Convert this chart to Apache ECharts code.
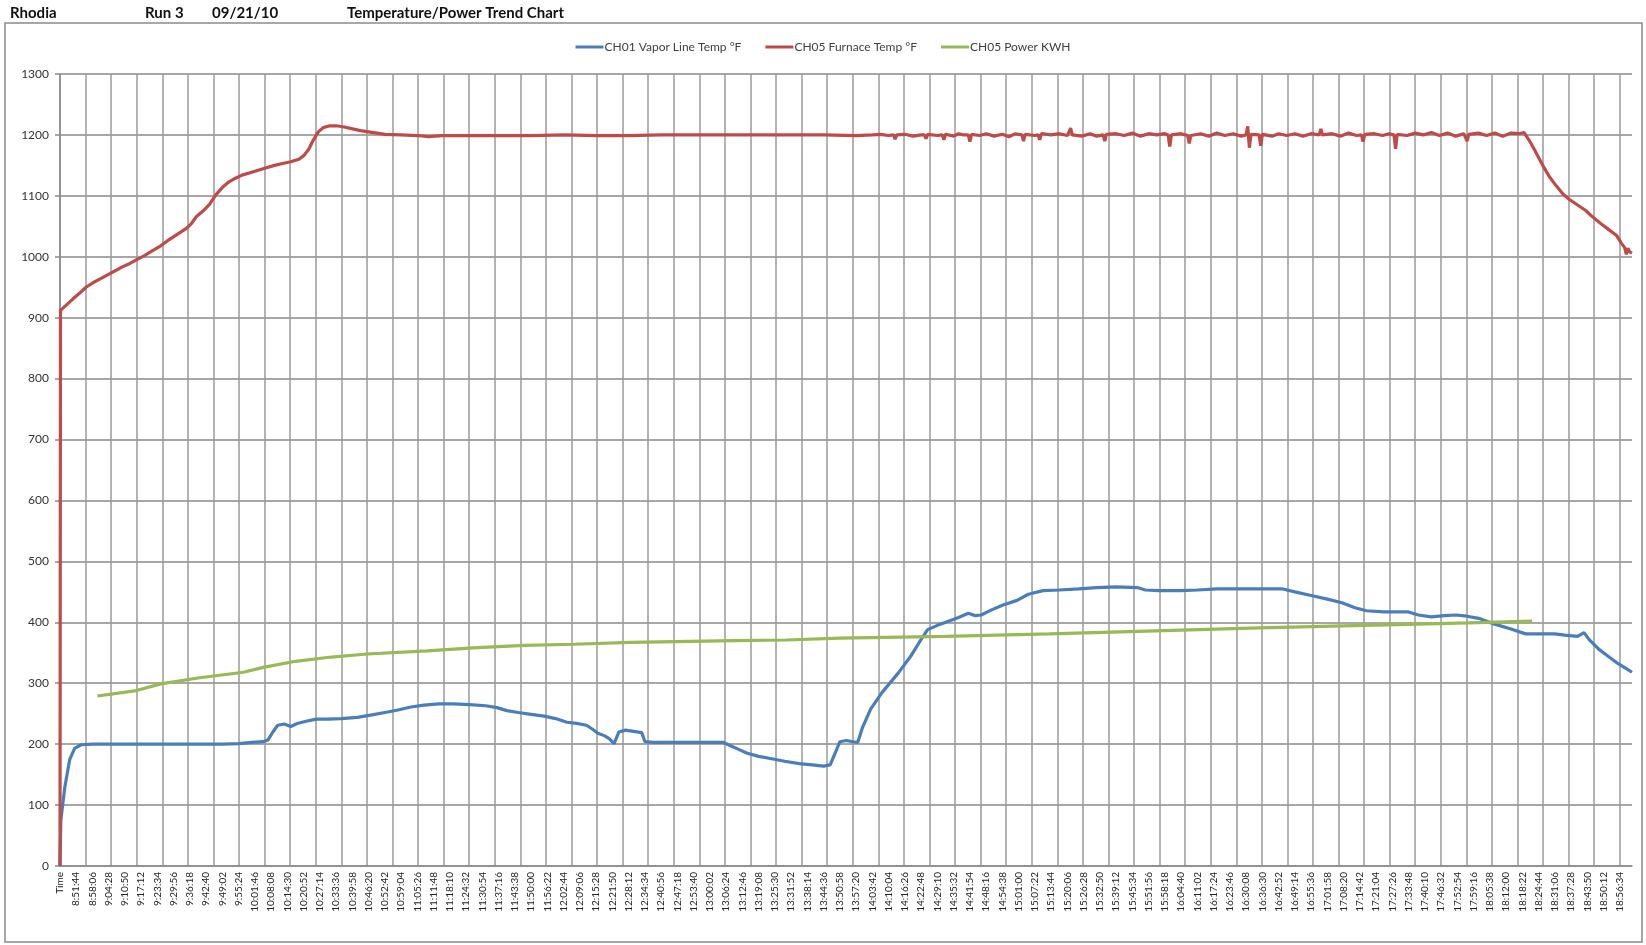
<!DOCTYPE html>
<html>
<head>
<meta charset="utf-8">
<script src="https://cdn.jsdelivr.net/npm/echarts@6/dist/echarts.min.js"></script>
<style>
html,body{margin:0;padding:0;background:#fff;}
#chart{width:1646px;height:945px;}
</style>
</head>
<body>
<div id="chart"></div>
<script>
// ---- data (x = position in tick-label units, y = value) ----
const timeLabels = ["Time","8:51:44","8:58:06","9:04:28","9:10:50","9:17:12","9:23:34","9:29:56","9:36:18","9:42:40","9:49:02","9:55:24","10:01:46","10:08:08","10:14:30","10:20:52","10:27:14","10:33:36","10:39:58","10:46:20","10:52:42","10:59:04","11:05:26","11:11:48","11:18:10","11:24:32","11:30:54","11:37:16","11:43:38","11:50:00","11:56:22","12:02:44","12:09:06","12:15:28","12:21:50","12:28:12","12:34:34","12:40:56","12:47:18","12:53:40","13:00:02","13:06:24","13:12:46","13:19:08","13:25:30","13:31:52","13:38:14","13:44:36","13:50:58","13:57:20","14:03:42","14:10:04","14:16:26","14:22:48","14:29:10","14:35:32","14:41:54","14:48:16","14:54:38","15:01:00","15:07:22","15:13:44","15:20:06","15:26:28","15:32:50","15:39:12","15:45:34","15:51:56","15:58:18","16:04:40","16:11:02","16:17:24","16:23:46","16:30:08","16:36:30","16:42:52","16:49:14","16:55:36","17:01:58","17:08:20","17:14:42","17:21:04","17:27:26","17:33:48","17:40:10","17:46:32","17:52:54","17:59:16","18:05:38","18:12:00","18:18:22","18:24:44","18:31:06","18:37:28","18:43:50","18:50:12","18:56:34"];

const seriesNames = ["CH01 Vapor Line Temp °F","CH05 Furnace Temp °F","CH05 Power KWH"];

const vaporLineTemp = [[0,0],[0.05,75],[0.3,130],[0.6,175],[0.9,193],[1.3,199],[2,200],[4,200],[6,200],[8,200],[10,200],[11,201],[11.8,203],[12.5,204],[12.8,207],[13.1,220],[13.4,231],[13.8,233],[14.2,229],[14.6,234],[15.2,238],[15.8,241],[16.5,241],[17.3,242],[18.3,244],[19.2,248],[20,252],[20.8,256],[21.6,261],[22.4,264],[23.3,266],[24.2,266],[25.2,265],[26.2,263],[26.9,260],[27.5,255],[28.2,252],[29,249],[29.8,246],[30.5,242],[31.2,236],[31.8,234],[32.4,231],[32.8,224],[33.1,218],[33.5,214],[33.8,209],[34.1,201],[34.4,220],[34.8,223],[35.3,221],[35.8,219],[36.0,204],[36.5,203],[38,203],[39.5,203],[40.8,203],[41.3,197],[41.8,191],[42.3,185],[43,180],[43.8,176],[44.6,172],[45.5,168],[46.3,166],[47,164],[47.4,166],[47.7,185],[48.0,204],[48.4,206],[48.8,204],[49.1,203],[49.4,228],[49.9,258],[50.6,285],[51.6,317],[52.4,346],[53.0,372],[53.4,388],[54.0,395],[54.6,401],[55.3,408],[55.9,415],[56.3,411],[56.7,412],[57.3,420],[58,428],[58.9,436],[59.6,446],[60.5,452],[61.5,453],[62.7,455],[63.8,457],[65,458],[66.3,457],[66.8,453],[67.6,452],[69,452],[70,453],[71.2,455],[73,455],[75.2,455],[76,450],[77,444],[78,438],[78.9,432],[79.7,424],[80.4,419],[81.5,417],[83,417],[83.6,412],[84.4,409],[85.2,411],[85.9,412],[86.6,410],[87.4,406],[88.3,397],[89.3,389],[90.2,381],[91,381],[92,381],[92.6,379],[93.4,377],[93.8,383],[94.1,372],[94.7,356],[95.3,344],[95.9,332],[96.4,324],[96.75,318]];

const furnaceTemp = [[0,0],[0.03,912],[0.4,921],[0.8,931],[1.2,940],[1.6,950],[2.0,957],[2.5,964],[2.9,970],[3.4,977],[3.8,983],[4.3,989],[4.7,995],[5.2,1002],[5.7,1010],[6.2,1018],[6.6,1026],[7.0,1033],[7.4,1040],[7.8,1047],[8.1,1055],[8.4,1066],[8.8,1075],[9.2,1086],[9.6,1102],[10.0,1114],[10.4,1123],[10.8,1129],[11.2,1134],[11.7,1138],[12.2,1142],[12.7,1146],[13.2,1150],[13.7,1153],[14.2,1156],[14.7,1160],[15.0,1166],[15.3,1176],[15.6,1192],[15.9,1205],[16.2,1212],[16.6,1215],[17.0,1215],[17.5,1213],[18.0,1210],[18.5,1207],[19.0,1205],[19.5,1203],[20.0,1201],[21,1200],[22,1199],[22.7,1197],[23.5,1199],[25,1199],[27,1199],[29,1199],[31,1200],[33,1199],[35,1199],[37,1200],[39,1200],[41,1200],[43,1200],[45,1200],[47,1200],[49,1199],[50,1200],[50.5,1201],[51,1199],[51.3,1200],[51.4,1193],[51.5,1200],[52,1201],[52.5,1198],[53,1200],[53.2,1200],[53.3,1194],[53.4,1201],[54,1199],[54.3,1200],[54.4,1192],[54.5,1201],[55,1198],[55.3,1202],[55.6,1200],[55.9,1200],[56.0,1189],[56.1,1201],[56.6,1199],[57,1202],[57.5,1198],[58,1201],[58.4,1197],[58.8,1202],[59.2,1200],[59.3,1190],[59.4,1201],[60,1199],[60.2,1200],[60.3,1192],[60.4,1202],[61,1200],[61.5,1202],[62,1199],[62.1,1200],[62.2,1211],[62.3,1200],[62.9,1198],[63.4,1202],[63.8,1198],[64.2,1200],[64.3,1190],[64.4,1201],[65,1202],[65.5,1199],[66,1203],[66.5,1198],[67,1202],[67.5,1200],[68,1202],[68.2,1200],[68.3,1181],[68.4,1200],[69,1202],[69.4,1199],[69.5,1186],[69.6,1199],[70.2,1202],[70.7,1198],[71.2,1203],[71.7,1199],[72.2,1202],[72.7,1198],[73.0,1200],[73.1,1214],[73.2,1179],[73.3,1201],[73.8,1200],[73.9,1182],[74.0,1201],[74.6,1198],[75,1202],[75.5,1199],[76,1202],[76.5,1198],[77,1202],[77.5,1200],[77.6,1210],[77.7,1200],[78.3,1202],[78.8,1198],[79.3,1203],[79.8,1199],[80.1,1200],[80.2,1189],[80.3,1201],[80.9,1202],[81.4,1199],[81.8,1202],[82.1,1200],[82.2,1177],[82.3,1201],[82.9,1199],[83.4,1203],[83.9,1200],[84.4,1204],[84.9,1199],[85.4,1203],[85.9,1198],[86.4,1202],[86.5,1200],[86.6,1190],[86.7,1201],[87.3,1203],[87.8,1199],[88.3,1203],[88.8,1198],[89.3,1203],[89.8,1202],[90.1,1204],[90.4,1192],[90.7,1178],[91.0,1163],[91.3,1148],[91.7,1130],[92.1,1116],[92.5,1103],[92.9,1094],[93.4,1085],[93.9,1076],[94.3,1066],[94.8,1055],[95.3,1045],[95.8,1035],[96.1,1022],[96.3,1015],[96.4,1004],[96.5,1014],[96.6,1008],[96.75,1006]];

const powerKWH = [[2.3,279],[4.7,288],[6.2,299],[8.6,309],[11.3,318],[12.5,326],[14.5,336],[16.7,343],[18.9,348],[22.6,353],[25.4,358],[28.6,362],[31.6,364],[35.1,367],[41.5,370],[44.7,371],[48,374],[54.5,377],[60.9,381],[67.4,386],[73.8,391],[80.3,395],[86.7,399],[90.6,402]];

const headerTexts = ["Rhodia","Run 3","09/21/10","Temperature/Power Trend Chart"];

// ---- chart ----
const FONT = 'Lato, "Noto Sans", sans-serif';
const AXIS_MAX = 96.75;
const GRID_STEP = 96 / 61;
const chart = echarts.init(document.getElementById('chart'), null, {renderer: 'canvas'});
const headerX = [10, 145, 212, 347];

chart.setOption({
  backgroundColor: '#ffffff',
  animation: false,
  textStyle: {fontFamily: FONT},
  graphic: [
    {type: 'rect', shape: {x: 5, y: 23, width: 1637, height: 919}, style: {fill: 'none', stroke: '#8a8a8a', lineWidth: 1.5}, silent: true}
  ].concat(headerTexts.map((t, k) => ({
    type: 'text', left: headerX[k], top: 6,
    style: {text: t, fontFamily: FONT, fontWeight: 'bold', fontSize: 15, fill: '#111'}
  }))),
  legend: {
    top: 36, left: 'center',
    data: seriesNames,
    icon: 'rect', itemWidth: 28, itemHeight: 3, itemGap: 24,
    textStyle: {fontFamily: FONT, fontSize: 12, color: '#404040', padding: [0, 0, 0, -4]}
  },
  grid: {left: 60, right: 14, top: 74, bottom: 79, outerBoundsMode: 'none'},
  xAxis: [
    {
      type: 'value', min: 0, max: AXIS_MAX, interval: 1,
      axisLine: {show: true, onZero: false, lineStyle: {color: '#8a8a8a', width: 1.5}},
      axisTick: {show: false},
      splitLine: {show: false},
      axisLabel: {
        rotate: 90, fontSize: 10, color: '#222', margin: 6, fontFamily: FONT,
        showMaxLabel: false,
        formatter: v => { const k = Math.round(v); return (Math.abs(v - k) < 1e-6 && timeLabels[k]) ? timeLabels[k] : ''; }
      }
    },
    {
      type: 'value', min: 0, max: AXIS_MAX, interval: GRID_STEP, position: 'bottom',
      axisLine: {show: false}, axisTick: {show: false}, axisLabel: {show: false},
      splitLine: {show: true, showMaxLine: false, lineStyle: {color: '#9a9a9a', width: 1.5}}
    }
  ],
  yAxis: {
    type: 'value', min: 0, max: 1300, interval: 100,
    axisLine: {show: true, lineStyle: {color: '#8a8a8a', width: 1.5}},
    axisTick: {show: true, length: 5, lineStyle: {color: '#8a8a8a', width: 1.5}},
    splitLine: {show: true, lineStyle: {color: '#8a8a8a', width: 1.5}},
    axisLabel: {fontSize: 12, color: '#333', margin: 11, fontFamily: FONT, formatter: v => String(v)}
  },
  series: [
    {name: seriesNames[0], type: 'line', data: vaporLineTemp, showSymbol: false, symbol: 'none', lineStyle: {color: '#4a7ebb', width: 3.2}, itemStyle: {color: '#4a7ebb'}, z: 3},
    {name: seriesNames[1], type: 'line', data: furnaceTemp, showSymbol: false, symbol: 'none', lineStyle: {color: '#be4b48', width: 3.2}, itemStyle: {color: '#be4b48'}, z: 4},
    {name: seriesNames[2], type: 'line', data: powerKWH, showSymbol: false, symbol: 'none', lineStyle: {color: '#98b954', width: 3.2}, itemStyle: {color: '#98b954'}, z: 5}
  ]
});
</script>
</body>
</html>
